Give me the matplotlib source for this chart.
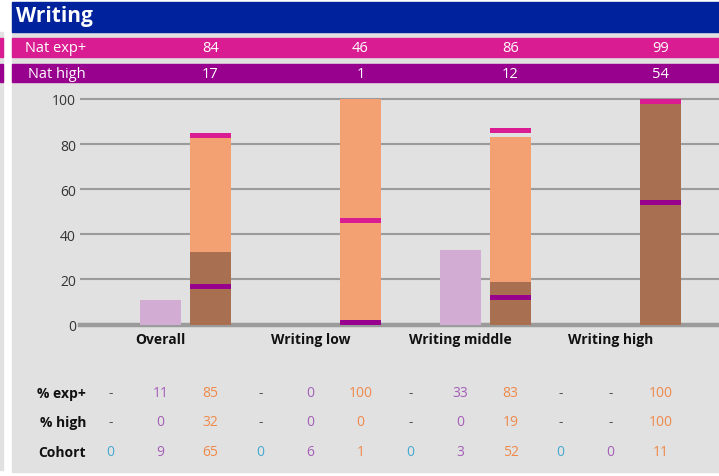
import matplotlib
matplotlib.use('Agg')
import matplotlib.pyplot as plt
import matplotlib.transforms as mtransforms
from matplotlib.patches import Rectangle
import numpy as np

plt.rcParams['font.family'] = ['Open Sans', 'DejaVu Sans']

# data
groups = ['Overall', 'Writing low', 'Writing middle', 'Writing high']
nat_exp = [84, 46, 86, 99]
nat_high = [17, 1, 12, 54]

cohort_blue = [0, 0, 0, 0]
exp_purple = [11, 0, 33, None]
high_purple = [0, 0, 0, None]
cohort_purple = [9, 6, 3, 0]
exp_orange = [85, 100, 83, 100]
high_orange = [32, 0, 19, 100]
cohort_orange = [65, 1, 52, 11]

yticks = [0, 20, 40, 60, 80, 100]

# colours
BLUE_HDR = '#00229C'
MAGENTA = '#D91C92'
PURPLE = '#98008E'
PANEL = '#E1E1E1'
GRID = '#9B9B9B'
C_LPURPLE = '#D3ACD4'
C_ORANGE = '#F3A173'
C_BROWN = '#A87050'
T_BLUE = '#45A9D0'
T_PURPLE = '#A45FB8'
T_ORANGE = '#F0894A'
T_DASH = '#555555'

W, H = 719, 477
fig = plt.figure(figsize=(W / 100, H / 100), dpi=100)
fig.patch.set_facecolor('white')


def fy(py):
    return 1 - py / H


def frect(x0, y0, x1, y1, color):
    fig.patches.append(Rectangle((x0 / W, fy(y1)), (x1 - x0) / W, (y1 - y0) / H,
                                 transform=fig.transFigure, color=color, zorder=-5))


# background panels
frect(0, 33, 3, 471, PANEL)
frect(0, 39, 3, 58, MAGENTA)
frect(0, 65, 3, 83, PURPLE)
frect(12, 33, W, 473, PANEL)
frect(12, 3, W, 33, BLUE_HDR)
frect(12, 39, W, 58, MAGENTA)
frect(12, 65, W, 83, PURPLE)

fig.text(16 / W, fy(22), 'Writing', color='white', fontsize=15, fontweight='bold',
         va='baseline', ha='left')

# main bar axes: slot k sits at pixel 110.5 + 50k, value 0 at pixel 325.5
px_per_unit = 2.255
y0_pix, top_pix = 325.5, 90
ax = fig.add_axes([80 / W, fy(y0_pix), (W - 80) / W, (y0_pix - top_pix) / H])
ax.set_zorder(1)
ax.set_facecolor('none')
ax.set_xlim((80 - 110.5) / 50, (W - 110.5) / 50)
ax.set_ylim(0, (y0_pix - top_pix) / px_per_unit)
for s in ax.spines.values():
    s.set_visible(False)
ax.set_xticks([])
ax.set_yticks(yticks)
ax.tick_params(axis='y', length=0, pad=3, labelsize=10, labelcolor='#333333')
for t in yticks[1:]:
    ax.axhline(t, color=GRID, lw=1.5, zorder=1)
ax.axhline(0, color=GRID, lw=3.2, zorder=1, clip_on=False)

bw = 0.82
mk = 5 / px_per_unit  # marker thickness in data units
for i in range(len(groups)):
    xp, xo = 3 * i + 1, 3 * i + 2
    if exp_purple[i] is not None:
        ax.bar(xp, exp_purple[i], width=bw, color=C_LPURPLE, zorder=2)
        ax.bar(xp, high_purple[i], width=bw, color=C_BROWN, zorder=3)
    ax.bar(xo, exp_orange[i], width=bw, color=C_ORANGE, zorder=2)
    ax.bar(xo, high_orange[i], width=bw, color=C_BROWN, zorder=3)
    ax.bar(xo, mk, bottom=nat_exp[i] - mk / 2, width=bw, color=MAGENTA, zorder=4)
    ax.bar(xo, mk, bottom=nat_high[i] - mk / 2, width=bw, color=PURPLE, zorder=4)

trans = mtransforms.blended_transform_factory(ax.transData, fig.transFigure)

# header rows
fig.text(86 / W, fy(48.5), 'Nat exp+', color='white', fontsize=10.5, ha='right', va='center')
fig.text(86 / W, fy(74), 'Nat high', color='white', fontsize=10.5, ha='right', va='center')
for i in range(len(groups)):
    ax.text(3 * i + 2, fy(48.5), str(nat_exp[i]), transform=trans, color='white',
            fontsize=10.5, ha='center', va='center', clip_on=False)
    ax.text(3 * i + 2, fy(74), str(nat_high[i]), transform=trans, color='white',
            fontsize=10.5, ha='center', va='center', clip_on=False)
    ax.text(3 * i + 1, fy(340), groups[i], transform=trans, color='#111111',
            fontsize=10, fontweight='bold', ha='center', va='center', clip_on=False)

# table below
row_y = [394, 423, 453]
row_names = ['% exp+', '% high', 'Cohort']
for name, y in zip(row_names, row_y):
    fig.text(86 / W, fy(y), name, color='#111111', fontsize=10, fontweight='bold',
             ha='right', va='center')


def cell(v):
    return '-' if v is None else str(v)


for i in range(len(groups)):
    xb, xp, xo = 3 * i, 3 * i + 1, 3 * i + 2
    blue_empty = cohort_blue[i] == 0
    cols = [
        (xb, ['-' if blue_empty else '', '-' if blue_empty else '', str(cohort_blue[i])],
         [T_DASH, T_DASH, T_BLUE]),
        (xp, [cell(exp_purple[i]), cell(high_purple[i]), str(cohort_purple[i])],
         [T_DASH if exp_purple[i] is None else T_PURPLE,
          T_DASH if high_purple[i] is None else T_PURPLE, T_PURPLE]),
        (xo, [str(exp_orange[i]), str(high_orange[i]), str(cohort_orange[i])],
         [T_ORANGE] * 3),
    ]
    for x, texts, colors in cols:
        for txt, c, y in zip(texts, colors, row_y):
            ax.text(x, fy(y), txt, transform=trans, color=c, fontsize=10,
                    ha='center', va='center', clip_on=False)

fig.savefig('out.png', dpi=100)
